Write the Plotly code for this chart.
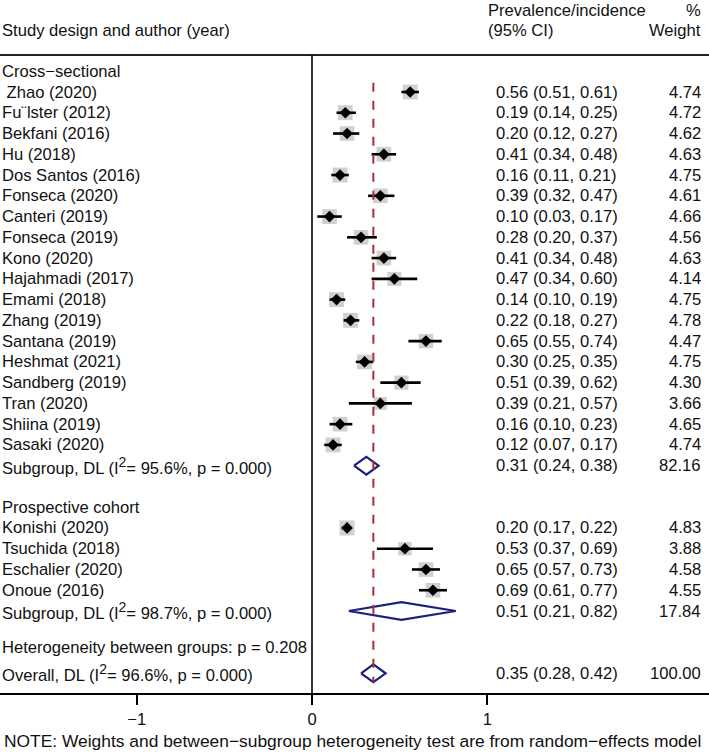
import plotly.graph_objects as go

# ---------------- data ----------------
cs_studies = [" Zhao (2020)", "Fu¨lster (2012)", "Bekfani (2016)", "Hu (2018)", "Dos Santos (2016)",
              "Fonseca (2020)", "Canteri (2019)", "Fonseca (2019)", "Kono (2020)", "Hajahmadi (2017)",
              "Emami (2018)", "Zhang (2019)", "Santana (2019)", "Heshmat (2021)", "Sandberg (2019)",
              "Tran (2020)", "Shiina (2019)", "Sasaki (2020)"]
cs_est = [0.56, 0.19, 0.20, 0.41, 0.16, 0.39, 0.10, 0.28, 0.41, 0.47, 0.14, 0.22, 0.65, 0.30, 0.51, 0.39, 0.16, 0.12]
cs_lo = [0.51, 0.14, 0.12, 0.34, 0.11, 0.32, 0.03, 0.20, 0.34, 0.34, 0.10, 0.18, 0.55, 0.25, 0.39, 0.21, 0.10, 0.07]
cs_hi = [0.61, 0.25, 0.27, 0.48, 0.21, 0.47, 0.17, 0.37, 0.48, 0.60, 0.19, 0.27, 0.74, 0.35, 0.62, 0.57, 0.23, 0.17]
cs_w = [4.74, 4.72, 4.62, 4.63, 4.75, 4.61, 4.66, 4.56, 4.63, 4.14, 4.75, 4.78, 4.47, 4.75, 4.30, 3.66, 4.65, 4.74]

pc_studies = ["Konishi (2020)", "Tsuchida (2018)", "Eschalier (2020)", "Onoue (2016)"]
pc_est = [0.20, 0.53, 0.65, 0.69]
pc_lo = [0.17, 0.37, 0.57, 0.61]
pc_hi = [0.22, 0.69, 0.73, 0.77]
pc_w = [4.83, 3.88, 4.58, 4.55]

groups = ["Cross\u2212sectional", "Prospective cohort"]
sub_est = [0.31, 0.51]
sub_lo = [0.24, 0.21]
sub_hi = [0.38, 0.82]
sub_w = [82.16, 17.84]
sub_i2 = [95.6, 98.7]

overall = {"est": 0.35, "lo": 0.28, "hi": 0.42, "w": 100.00, "i2": 96.6}
het_p = 0.208

tick_vals = [-1, 0, 1]
tick_text = ["\u22121", "0", "1"]

# ---------------- layout helpers ----------------
W, H = 709, 753
X0PX, XSCALE = 312.0, 175.3
def px2x(px):
    return (px - X0PX) / XSCALE

ROW0, ROWH = 92.0, 20.76
AXIS_PX = 693.0
y_top = (0 - ROW0) / ROWH
y_bot = (AXIS_PX - ROW0) / ROWH
def py2row(py):
    return (py - ROW0) / ROWH

FONT = "Liberation Sans, Arial, sans-serif"
FS = 16.6
TXT = "#111111"
SUP2 = "I<sup><span style='font-size:14px'>2</span></sup>"

# row assignment
rows_est, rows_lo, rows_hi, rows_w, rows_y = [], [], [], [], []
labels = []  # (y, text)
labels.append((-1, groups[0]))
for i, s in enumerate(cs_studies):
    y = i
    rows_y.append(y); rows_est.append(cs_est[i]); rows_lo.append(cs_lo[i]); rows_hi.append(cs_hi[i]); rows_w.append(cs_w[i])
    labels.append((y, s))
sub_rows = [len(cs_studies)]
labels.append((sub_rows[0], f"Subgroup, DL ({SUP2}= {sub_i2[0]:.1f}%, p = 0.000)"))
labels.append((sub_rows[0] + 2, groups[1]))
start = sub_rows[0] + 3
for i, s in enumerate(pc_studies):
    y = start + i
    rows_y.append(y); rows_est.append(pc_est[i]); rows_lo.append(pc_lo[i]); rows_hi.append(pc_hi[i]); rows_w.append(pc_w[i])
    labels.append((y, s))
sub_rows.append(start + len(pc_studies))
labels.append((sub_rows[1], f"Subgroup, DL ({SUP2}= {sub_i2[1]:.1f}%, p = 0.000)"))
het_row = sub_rows[1] + 1.75
labels.append((het_row, f"Heterogeneity between groups: p = {het_p:.3f}"))
ov_row = sub_rows[1] + 3
labels.append((ov_row, f"Overall, DL ({SUP2}= {overall['i2']:.1f}%, p = 0.000)"))

fig = go.Figure()

# weight boxes
fig.add_trace(go.Scatter(
    x=rows_est, y=rows_y, mode="markers",
    marker=dict(symbol="square", color="#bcbcbc", size=[15 * (w / 4.83) ** 0.5 for w in rows_w],
                line=dict(width=0)),
    hoverinfo="skip", showlegend=False))

# CI lines
cx, cy = [], []
for e, l, h, y in zip(rows_est, rows_lo, rows_hi, rows_y):
    cx += [l, h, None]; cy += [y, y, None]
fig.add_trace(go.Scatter(x=cx, y=cy, mode="lines", line=dict(color="black", width=2.6),
                         hoverinfo="skip", showlegend=False))

# point estimates
fig.add_trace(go.Scatter(x=rows_est, y=rows_y, mode="markers",
                         marker=dict(symbol="diamond", color="black", size=9),
                         hoverinfo="skip", showlegend=False))

# diamonds
DH = 0.43
def diamond(e, l, h, y):
    fig.add_trace(go.Scatter(x=[l, e, h, e, l], y=[y, y - DH, y, y + DH, y], mode="lines",
                             line=dict(color="#1b1f7e", width=2.2), hoverinfo="skip", showlegend=False))
for k in range(2):
    diamond(sub_est[k], sub_lo[k], sub_hi[k], sub_rows[k])
diamond(overall["est"], overall["lo"], overall["hi"], ov_row)

# shapes: top rule, zero line, overall dashed line
rule_y = py2row(55)
fig.add_shape(type="line", xref="paper", yref="y", x0=0, x1=1, y0=rule_y, y1=rule_y,
              line=dict(color="#222222", width=2))
fig.add_shape(type="line", xref="x", yref="y", x0=0, x1=0, y0=rule_y, y1=y_bot,
              line=dict(color="black", width=1.6))
fig.add_shape(type="line", xref="x", yref="y", x0=overall["est"], x1=overall["est"],
              y0=-0.45, y1=ov_row + DH, line=dict(color="#a8302f", width=2, dash="dash"))

ann = []
def text(xpx, y, s, anchor="left"):
    ann.append(dict(x=px2x(xpx), y=y, xref="x", yref="y", text=s, showarrow=False,
                    xanchor=anchor, yanchor="middle", font=dict(family=FONT, size=FS, color=TXT)))

# headers
text(0, py2row(30), "Study design and author (year)")
text(486, py2row(10), "Prevalence/incidence")
text(486, py2row(30), "(95% CI)")
text(703, py2row(10), "%", "right")
text(703, py2row(30), "Weight", "right")

for y, s in labels:
    text(0, y, s)

for e, l, h, w, y in zip(rows_est, rows_lo, rows_hi, rows_w, rows_y):
    text(494, y, f"{e:.2f} ({l:.2f}, {h:.2f})")
    text(703, y, f"{w:.2f}", "right")
for k in range(2):
    text(494, sub_rows[k], f"{sub_est[k]:.2f} ({sub_lo[k]:.2f}, {sub_hi[k]:.2f})")
    text(703, sub_rows[k], f"{sub_w[k]:.2f}", "right")
text(494, ov_row, f"{overall['est']:.2f} ({overall['lo']:.2f}, {overall['hi']:.2f})")
text(703, ov_row, f"{overall['w']:.2f}", "right")

ann.append(dict(x=0.003, y=-(741 - AXIS_PX) / AXIS_PX, xref="paper", yref="paper",
                text="NOTE: Weights and between\u2212subgroup heterogeneity test are from random\u2212effects model",
                showarrow=False, xanchor="left", yanchor="middle",
                font=dict(family=FONT, size=17.4, color=TXT)))

fig.update_layout(
    width=W, height=H, margin=dict(l=0, r=0, t=0, b=H - AXIS_PX),
    paper_bgcolor="white", plot_bgcolor="white",
    annotations=ann, showlegend=False,
    xaxis=dict(range=[px2x(0), px2x(W)], showgrid=False, zeroline=False,
               showline=True, linecolor="black", linewidth=1.6,
               ticks="outside", ticklen=10, tickwidth=1.5, tickcolor="black",
               tickvals=tick_vals, ticktext=tick_text,
               tickfont=dict(family=FONT, size=FS, color=TXT)),
    yaxis=dict(range=[y_bot, y_top], visible=False, showgrid=False, zeroline=False),
)

fig.write_html("out.html")
